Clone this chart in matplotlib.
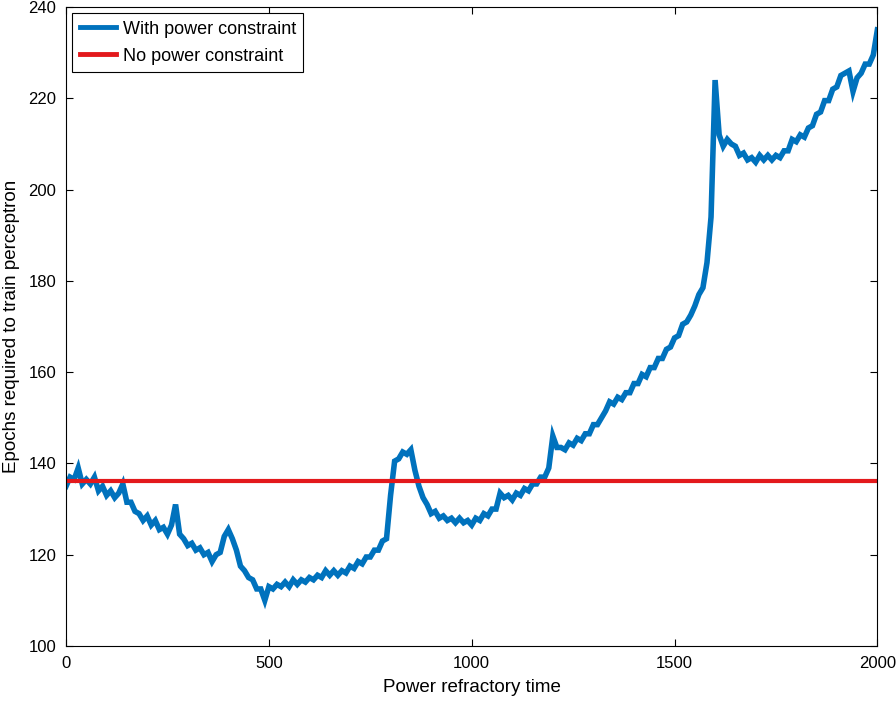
import numpy as np
import matplotlib
matplotlib.use('Agg')
import matplotlib.pyplot as plt

plt.rcParams['font.family'] = ['Liberation Sans', 'DejaVu Sans']

# refractory time sampled every 10 units
refractory = np.arange(0, 2001, 10)

# epochs (noisy curve, with power constraint)
epochs_constrained = [
    135.0, 137.0, 136.5, 139.0, 135.5, 136.5, 135.5, 137.0, 134.0, 135.0,
    133.0, 134.0, 132.5, 133.5, 135.5, 131.5, 131.5, 129.5, 129.0, 127.5,
    128.5, 126.5, 127.5, 125.5, 126.0, 124.5, 126.5, 131.0, 124.5, 123.5,
    122.0, 122.5, 121.0, 121.5, 120.0, 120.5, 118.5, 120.0, 120.5, 124.0,
    125.5, 123.5, 121.0, 117.5, 116.5, 115.0, 114.5, 112.5, 112.5, 110.0,
    113.0, 112.5, 113.5, 113.0, 114.0, 113.0, 114.5, 113.5, 114.5, 114.0,
    115.0, 114.5, 115.5, 115.0, 116.5, 115.5, 116.5, 115.5, 116.5, 116.0,
    117.5, 117.0, 118.5, 118.0, 119.5, 119.5, 121.0, 121.0, 123.0, 123.5,
    133.0, 140.5, 141.0, 142.5, 142.0, 143.0, 138.5, 135.0, 132.5, 131.0,
    129.0, 129.5, 128.0, 128.5, 127.5, 128.0, 127.0, 128.0, 127.0, 127.5,
    126.5, 128.0, 127.5, 129.0, 128.5, 130.0, 130.0, 133.5, 132.5, 133.0,
    132.0, 133.5, 133.0, 134.5, 134.0, 135.5, 135.5, 137.0, 137.0, 139.0,
    146.0, 143.5, 143.5, 143.0, 144.5, 144.0, 145.5, 145.0, 146.5, 146.5,
    148.5, 148.5, 150.0, 151.5, 153.5, 153.0, 154.5, 154.0, 155.5, 155.5,
    157.5, 157.5, 159.5, 159.0, 161.0, 161.0, 163.0, 163.0, 165.0, 165.5,
    167.5, 168.0, 170.5, 171.0, 172.5, 174.5, 177.0, 178.5, 184.0, 194.0,
    224.0, 212.0, 209.5, 211.0, 210.0, 209.5, 207.5, 208.0, 206.5, 207.0,
    206.0, 207.5, 206.5, 207.5, 206.5, 207.5, 207.0, 208.5, 208.5, 211.0,
    210.5, 212.0, 211.5, 213.5, 214.0, 216.5, 217.0, 219.5, 219.5, 222.0,
    222.5, 225.0, 225.5, 226.0, 221.5, 224.5, 225.5, 227.5, 227.5, 229.5,
    235.0,
]

# constant baseline without power constraint
epochs_unconstrained = 136.2

x_ticks = [0, 500, 1000, 1500, 2000]
y_ticks = [100, 120, 140, 160, 180, 200, 220, 240]

fig = plt.figure(figsize=(8.96, 7.04), dpi=100)
ax = fig.add_axes([0.0737, 0.0824, 0.9055, 0.9076])

ax.plot(refractory, epochs_constrained, color='#0072BD', lw=4.0,
        solid_joinstyle='miter', label='With power constraint')
ax.plot([refractory[0], refractory[-1]],
        [epochs_unconstrained, epochs_unconstrained],
        color='#E3191C', lw=3.0, label='No power constraint')

ax.set_xlim(0, 2000)
ax.set_ylim(100, 240)
ax.set_xticks(x_ticks)
ax.set_yticks(y_ticks)
ax.tick_params(direction='in', top=True, right=True, length=5,
               labelsize=12, width=0.8, pad=7)
for s in ax.spines.values():
    s.set_linewidth(0.8)

ax.set_xlabel('Power refractory time', fontsize=13.5, labelpad=6)
ax.set_ylabel('Epochs required to train perceptron', fontsize=13.5, labelpad=6)

leg = ax.legend(loc='upper left', fontsize=13, fancybox=False,
                framealpha=1, edgecolor='black', handlelength=2.0,
                handletextpad=0.4, borderaxespad=0.35, labelspacing=0.55,
                borderpad=0.4)
leg.get_frame().set_linewidth(0.8)
for h in leg.get_lines():
    h.set_linewidth(3.5)

fig.savefig('out.png', dpi=100)
